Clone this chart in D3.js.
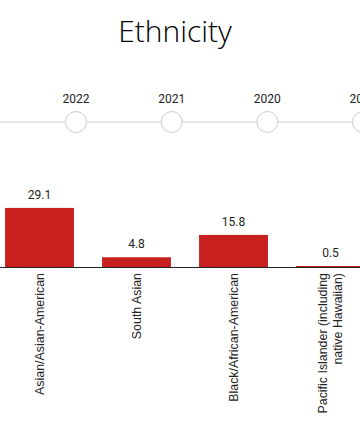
<!DOCTYPE html>
<html>
<head>
<meta charset="utf-8">
<script src="https://cdn.jsdelivr.net/npm/d3@7"></script>
<style>
  html, body { margin: 0; padding: 0; background: #fff; }
  svg { display: block; }
</style>
</head>
<body>
<svg id="chart" width="360" height="426"></svg>
<script>
const title = "Ethnicity";
const years = ["2022", "2021", "2020", "2019"];
const categories = [
  ["Asian/Asian-American"],
  ["South Asian"],
  ["Black/African-American"],
  ["Pacific Islander (including", "native Hawaiian)"]
];
const values = [29.1, 4.8, 15.8, 0.5];

const svg = d3.select("#chart");
const W = 360;

svg.append("text")
  .attr("x", 175).attr("y", 42)
  .attr("text-anchor", "middle")
  .style("font-family", "'Open Sans', sans-serif")
  .style("font-weight", 300)
  .style("font-size", "30px")
  .attr("fill", "#000")
  .text(title);

// timeline
const tl = d3.scalePoint().domain(years).range([76, 363]);
const tlY = 122;
svg.append("line").attr("x1", 0).attr("x2", W).attr("y1", tlY).attr("y2", tlY)
  .attr("stroke", "#cccccc").attr("stroke-width", 1);
const yg = svg.selectAll("g.year").data(years).join("g").attr("class", "year")
  .attr("transform", d => `translate(${tl(d)},0)`);
yg.append("circle").attr("cy", tlY).attr("r", 10.5)
  .attr("fill", "#fff").attr("stroke", "#cccccc").attr("stroke-width", 1);
yg.append("text").attr("y", 103).attr("text-anchor", "middle")
  .style("font-family", "Roboto, sans-serif").style("font-size", "12px")
  .attr("fill", "#222").text(d => d);

// bars
const x = d3.scaleBand().domain(d3.range(categories.length))
  .range([-9, 379]).paddingInner(0.29).paddingOuter(0.145);
const y = d3.scaleLinear().domain([0, 30]).range([267, 206.1]);

svg.selectAll("rect.bar").data(values).join("rect").attr("class", "bar")
  .attr("x", (d, i) => x(i)).attr("width", x.bandwidth())
  .attr("y", d => y(d)).attr("height", d => y(0) - y(d))
  .attr("fill", "#c8201f");

svg.selectAll("text.val").data(values).join("text").attr("class", "val")
  .attr("x", (d, i) => x(i) + x.bandwidth() / 2)
  .attr("y", d => y(d) - 9)
  .attr("text-anchor", "middle")
  .style("font-family", "Roboto, sans-serif").style("font-size", "12px")
  .attr("fill", "#222")
  .text(d => d.toFixed(1));

// axis
const axis = d3.axisBottom(x).tickSize(0).tickFormat("");
const ag = svg.append("g").attr("transform", `translate(0,${y(0)})`).call(axis);
ag.select(".domain").remove();
svg.append("line").attr("x1", 0).attr("x2", W).attr("y1", y(0) + 0.5).attr("y2", y(0) + 0.5)
  .attr("stroke", "#222").attr("stroke-width", 1);

categories.forEach((lines, i) => {
  const cx = x(i) + x.bandwidth() / 2;
  const n = lines.length;
  const t = svg.append("text")
    .attr("transform", `translate(${cx},${y(0) + 6}) rotate(-90)`)
    .attr("text-anchor", "end")
    .style("font-family", "'Liberation Sans', Arial, sans-serif")
    .style("font-size", "12.4px")
    .attr("fill", "#222");
  lines.forEach((l, j) => {
    t.append("tspan").attr("x", 0)
      .attr("y", (j - (n - 1) / 2) * 15 + 4)
      .text(l);
  });
});
</script>
</body>
</html>
